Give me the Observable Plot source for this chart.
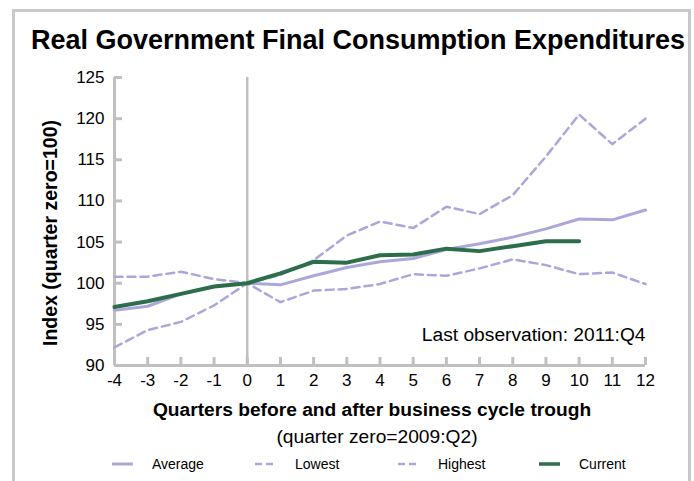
<!DOCTYPE html>
<html>
<head>
<meta charset="utf-8">
<script src="https://cdn.jsdelivr.net/npm/d3@7"></script>
<script src="https://cdn.jsdelivr.net/npm/@observablehq/plot@0.6"></script>
<style>
  html, body { margin: 0; padding: 0; background: #fff; width: 694px; height: 481px; overflow: hidden; }
  body { position: relative; font-family: "Liberation Sans", Arial, sans-serif; color: #000; }
  .frame { position: absolute; left: 12px; top: 9px; width: 673px; height: 520px; border: 3px solid #c8c8c8; box-sizing: content-box; }
  .title { position: absolute; left: 0px; width: 716px; top: 25px; line-height: 30px; text-align: center; font-weight: bold; font-size: 27px; white-space: nowrap; }
  .ytitle { position: absolute; left: 50px; top: 233px; transform: translate(-50%, -50%) rotate(-90deg); white-space: nowrap; font-weight: bold; font-size: 19.5px; }
  .xtitle { position: absolute; left: 72px; width: 600px; top: 399px; line-height: 22px; text-align: center; font-weight: bold; font-size: 19.2px; white-space: nowrap; }
  .xsub { position: absolute; left: 77px; width: 600px; top: 426px; line-height: 22px; text-align: center; font-size: 19.2px; white-space: nowrap; }
  #chart { position: absolute; left: 0; top: 62px; }
  .legend { position: absolute; top: 455px; left: 0; height: 18px; }
  .item { position: absolute; top: 0; height: 18px; white-space: nowrap; }
  .item svg { position: absolute; left: 0; top: 0; }
  .item span { position: absolute; top: 0; line-height: 18px; font-size: 14px; }
</style>
</head>
<body>
<div class="frame"></div>
<div class="title">Real Government Final Consumption Expenditures</div>
<div class="ytitle">Index (quarter zero=100)</div>
<div id="chart"></div>
<div class="xtitle">Quarters before and after business cycle trough</div>
<div class="xsub">(quarter zero=2009:Q2)</div>
<div class="legend" id="legend"></div>
<script>
// ---- data ----
const quarters = [-4, -3, -2, -1, 0, 1, 2, 3, 4, 5, 6, 7, 8, 9, 10, 11, 12];
const average  = [96.7, 97.2, 98.7, 99.6, 100, 99.8, 100.9, 101.9, 102.6, 103.0, 104.1, 104.8, 105.6, 106.6, 107.8, 107.7, 108.9];
const lowest   = [92.2, 94.3, 95.3, 97.3, 100, 97.7, 99.1, 99.3, 99.9, 101.1, 100.9, 101.8, 102.9, 102.2, 101.1, 101.3, 99.9];
const highest  = [100.8, 100.8, 101.4, 100.5, 100, 101.0, 102.8, 105.8, 107.5, 106.7, 109.3, 108.4, 110.7, 115.4, 120.5, 116.9, 120.0];
const current  = [97.1, 97.8, 98.7, 99.6, 100, 101.2, 102.6, 102.5, 103.4, 103.5, 104.2, 103.9, 104.5, 105.1, 105.1];
const yTicks = [90, 95, 100, 105, 110, 115, 120, 125];
const xTicks = quarters;
const seriesNames = ["Average", "Lowest", "Highest", "Current"];
const note = "Last observation: 2011:Q4";

const lav = "#aba7da";
const green = "#2c6e4b";
const axisGray = "#c0c0c0";

const rows = (vals) => vals.map((v, i) => ({q: quarters[i], v}));

const chart = Plot.plot({
  width: 694,
  height: 330,
  marginLeft: 114,
  marginRight: 49,
  marginTop: 15,
  marginBottom: 27,
  style: {fontFamily: '"Liberation Sans", Arial, sans-serif', fontSize: "17px", color: "#000", background: "transparent"},
  x: {domain: [-4, 12]},
  y: {domain: [90, 125]},
  marks: [
    Plot.axisY({ticks: yTicks, tickSize: -8, tickPadding: 18, stroke: axisGray, strokeWidth: 3, label: null, fontSize: 17, fill: "#000"}),
    Plot.axisX({ticks: xTicks, tickSize: -8, tickPadding: 16, stroke: axisGray, strokeWidth: 3, label: null, fontSize: 17, fill: "#000", tickFormat: d => String(d)}),
    Plot.ruleX([0], {stroke: axisGray, strokeWidth: 2.5}),
    Plot.ruleX([-4], {stroke: axisGray, strokeWidth: 3}),
    Plot.ruleY([90], {stroke: axisGray, strokeWidth: 3}),
    Plot.line(rows(lowest), {x: "q", y: "v", stroke: lav, strokeWidth: 2.5, strokeDasharray: "8,5"}),
    Plot.line(rows(highest), {x: "q", y: "v", stroke: lav, strokeWidth: 2.5, strokeDasharray: "8,5"}),
    Plot.line(rows(average), {x: "q", y: "v", stroke: lav, strokeWidth: 3}),
    Plot.line(rows(current), {x: "q", y: "v", stroke: green, strokeWidth: 4}),
    Plot.text([note], {frameAnchor: "bottom-right", dy: -25, textAnchor: "end", fontSize: 19.2, fill: "#000"})
  ]
});
document.getElementById("chart").appendChild(chart);

// ---- legend ----
const legendStyles = [
  {stroke: lav, dash: null, w: 3},
  {stroke: lav, dash: "7,4", w: 2.5},
  {stroke: lav, dash: "7,4", w: 2.5},
  {stroke: green, dash: null, w: 3.5}
];
const legendX = [112, 255, 398, 539];
const legend = document.getElementById("legend");
seriesNames.forEach((name, i) => {
  const it = document.createElement("div");
  it.className = "item";
  it.style.left = legendX[i] + "px";
  const s = legendStyles[i];
  it.innerHTML = `<svg width="24" height="18"><line x1="0" x2="21" y1="9" y2="9" stroke="${s.stroke}" stroke-width="${s.w}" ${s.dash ? `stroke-dasharray="${s.dash}"` : ""}/></svg><span style="left:40px">${name}</span>`;
  legend.appendChild(it);
});
</script>
</body>
</html>
